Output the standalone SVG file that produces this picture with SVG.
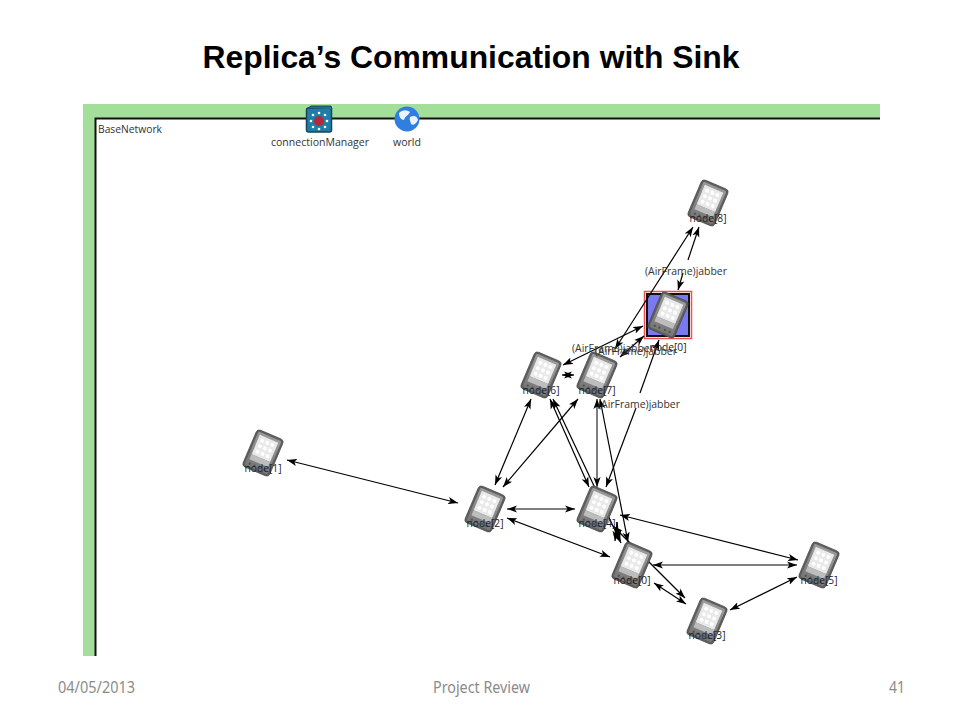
<svg xmlns="http://www.w3.org/2000/svg" width="960" height="720" viewBox="0 0 960 720">
<style>
.c{stroke:#000;stroke-width:1.2;fill:none;marker-end:url(#a);marker-start:url(#a)}
.e{stroke:#000;stroke-width:1.2;fill:none;marker-end:url(#a)}
.l{font-family:"Open Sans","Liberation Sans",sans-serif;font-size:11px;fill:#333}
.n{text-anchor:middle;fill:#1c1c2a;font-size:11.500px}
.f{font-family:"Noto Sans","Liberation Sans",sans-serif;font-size:16px;fill:#8b8b8b}
</style>
<defs>
<marker id="a" markerUnits="userSpaceOnUse" markerWidth="11" markerHeight="8" refX="10" refY="4" orient="auto-start-reverse"><path d="M0,0.4 L10,4 L0,7.6 L2.5,4z" fill="#000"/></marker>
<linearGradient id="b" x1="0" y1="0" x2="0" y2="1"><stop offset="0" stop-color="#9a9a9a"/><stop offset="1" stop-color="#777"/></linearGradient>
<g id="pda">
<g transform="rotate(23)">
<rect x="-14.500" y="-20" width="29" height="40" rx="3.500" fill="#5e5e5e" stroke="#4a4a4a" stroke-width="0.700"/>
<rect x="-12.500" y="-18" width="25" height="36" rx="2" fill="url(#b)"/>
<rect x="-10" y="-15.500" width="20" height="21" fill="#e9e9e9"/>
<rect x="-10" y="5.500" width="20" height="5.500" fill="#bdbdbd"/>
<g fill="#fff"><circle cx="-5.500" cy="-11" r="2"/><circle cx="0" cy="-11" r="2"/><circle cx="5.500" cy="-11" r="2"/><circle cx="-5.500" cy="-5" r="2"/><circle cx="0" cy="-5" r="2"/><circle cx="5.500" cy="-5" r="2"/><circle cx="-5.500" cy="1" r="2"/><circle cx="0" cy="1" r="2"/><circle cx="5.500" cy="1" r="2"/></g>
<g fill="#555"><circle cx="-8" cy="15" r="1.200"/><circle cx="-3" cy="15" r="1.200"/><circle cx="3" cy="15" r="1.200"/><circle cx="8" cy="15" r="1.200"/></g>
</g>
</g>
</defs>
<rect width="960" height="720" fill="#fff"/>
<text x="471" y="68" text-anchor="middle" font-family="Liberation Sans, Arial, sans-serif" font-weight="700" font-size="31" textLength="537" lengthAdjust="spacingAndGlyphs" fill="#000">Replica’s Communication with Sink</text>

<g id="frame">
<path d="M83,104H880V118H96V656H83Z" fill="#a3df9b"/>
<path d="M95.500,656V118.500H880" fill="none" stroke="#111" stroke-width="2"/>
<text class="l" x="98" y="133" textLength="64" lengthAdjust="spacingAndGlyphs">BaseNetwork</text>
</g>

<g id="connectionManager">
<rect x="306.500" y="108" width="25" height="24" rx="2" fill="#1d7fa8" stroke="#17435c" stroke-width="1.500"/>
<path d="M308,108L311,106H331L332,109" fill="#2b6f8f" stroke="#17435c"/>
<circle cx="319" cy="121" r="5" fill="#b3283d"/>
<g fill="#fff"><circle cx="319" cy="113" r="1.300"/><circle cx="325" cy="115" r="1.300"/><circle cx="327" cy="121" r="1.300"/><circle cx="325" cy="127" r="1.300"/><circle cx="319" cy="129" r="1.300"/><circle cx="313" cy="127" r="1.300"/><circle cx="311" cy="121" r="1.300"/><circle cx="313" cy="115" r="1.300"/></g>
<text class="l" x="271" y="146" textLength="98" lengthAdjust="spacingAndGlyphs">connectionManager</text>
</g>
<g id="world">
<circle cx="407" cy="119" r="12.500" fill="#2f7fe0"/>
<path d="M399,113C403,109 407,110 410,112C408,116 405,116 404,120C401,120 399,117 399,113ZM410,117C414,115 417,116 418,120C416,124 413,126 411,124C411,122 409,120 410,117Z" fill="#eaf3ff"/>
<text class="l" x="393" y="146" textLength="28" lengthAdjust="spacingAndGlyphs">world</text>
</g>

<g id="selection">
<rect x="644.500" y="291.500" width="47" height="47" fill="none" stroke="#f05050" stroke-width="1.500"/>
<rect x="647" y="294" width="42" height="42" fill="#7a7af0" stroke="#111" stroke-width="2"/>
</g>

<g id="connectors">
<line class="c" x1="287" y1="460" x2="458" y2="503"/>
<line class="c" x1="495" y1="485" x2="531" y2="399"/>
<line class="c" x1="503" y1="487" x2="578" y2="399"/>
<line class="c" x1="507" y1="509" x2="575" y2="509"/>
<line class="c" x1="507" y1="518" x2="610" y2="557"/>
<line class="c" x1="589" y1="487" x2="550" y2="399"/>
<line class="c" x1="553" y1="399" x2="621" y2="543"/>
<line class="c" x1="597" y1="487" x2="597" y2="399" style="stroke:#555;stroke-width:1.500"/>
<line class="e" x1="636" y1="408" x2="606" y2="487"/>
<line class="e" x1="640" y1="393" x2="659" y2="340"/>
<line class="c" x1="600" y1="399" x2="628" y2="542"/>
<line class="c" x1="613" y1="526" x2="685" y2="598"/>
<line class="e" x1="617" y1="522" x2="619" y2="540"/>
<line class="e" x1="617" y1="522" x2="615" y2="541"/>
<line class="c" x1="653" y1="565" x2="797" y2="565"/>
<line class="c" x1="620" y1="515" x2="798" y2="560"/>
<line class="c" x1="797" y1="577" x2="730" y2="610"/>
<line class="c" x1="654" y1="583" x2="686" y2="604"/>
<line class="e" x1="568" y1="375" x2="562" y2="375"/>
<line class="e" x1="568" y1="375" x2="574" y2="375"/>
<line class="c" x1="563" y1="365" x2="643" y2="326"/>
<line class="c" x1="620" y1="357" x2="644" y2="336"/>
<line class="c" x1="615" y1="349" x2="693" y2="227"/>
<line class="e" x1="688" y1="260" x2="699" y2="227"/>
<line class="e" x1="683" y1="273" x2="678" y2="290"/>
</g>

<g id="node-8"><use href="#pda" x="708" y="203"/><text class="l n" x="708" y="222" textLength="37" lengthAdjust="spacingAndGlyphs">node[8]</text></g>
<g id="node-sink"><use href="#pda" x="668" y="315"/><text class="l n" x="668" y="351" textLength="37" lengthAdjust="spacingAndGlyphs">node[0]</text></g>
<g id="node-6"><use href="#pda" x="541" y="375"/><text class="l n" x="541" y="394" textLength="37" lengthAdjust="spacingAndGlyphs">node[6]</text></g>
<g id="node-7"><use href="#pda" x="597" y="375"/><text class="l n" x="597" y="394" textLength="37" lengthAdjust="spacingAndGlyphs">node[7]</text></g>
<g id="node-1"><use href="#pda" x="263" y="453"/><text class="l n" x="263" y="472" textLength="37" lengthAdjust="spacingAndGlyphs">node[1]</text></g>
<g id="node-2"><use href="#pda" x="485" y="509"/><text class="l n" x="485" y="527" textLength="37" lengthAdjust="spacingAndGlyphs">node[2]</text></g>
<g id="node-4"><use href="#pda" x="597" y="509"/><text class="l n" x="597" y="527" textLength="37" lengthAdjust="spacingAndGlyphs">node[4]</text></g>
<g id="node-0"><use href="#pda" x="632" y="565"/><text class="l n" x="632" y="584" textLength="37" lengthAdjust="spacingAndGlyphs">node[0]</text></g>
<g id="node-5"><use href="#pda" x="819" y="565"/><text class="l n" x="819" y="584" textLength="37" lengthAdjust="spacingAndGlyphs">node[5]</text></g>
<g id="node-3"><use href="#pda" x="707" y="621"/><text class="l n" x="707" y="639" textLength="37" lengthAdjust="spacingAndGlyphs">node[3]</text></g>

<g id="labels">
<text class="l" x="645" y="275" textLength="82" lengthAdjust="spacingAndGlyphs">(AirFrame)jabber</text>
<text class="l" x="572" y="352" textLength="82" lengthAdjust="spacingAndGlyphs">(AirFrame)jabber</text>
<text class="l" x="595" y="355" textLength="82" lengthAdjust="spacingAndGlyphs">(AirFrame)jabber</text>
<text class="l" x="598" y="408" textLength="82" lengthAdjust="spacingAndGlyphs">(AirFrame)jabber</text>
</g>

<g id="footer">
<text class="f" x="58" y="693" textLength="77" lengthAdjust="spacingAndGlyphs">04/05/2013</text>
<text class="f" x="433" y="693" textLength="97" lengthAdjust="spacingAndGlyphs">Project Review</text>
<text class="f" x="889" y="693" textLength="16" lengthAdjust="spacingAndGlyphs">41</text>
</g>
</svg>
